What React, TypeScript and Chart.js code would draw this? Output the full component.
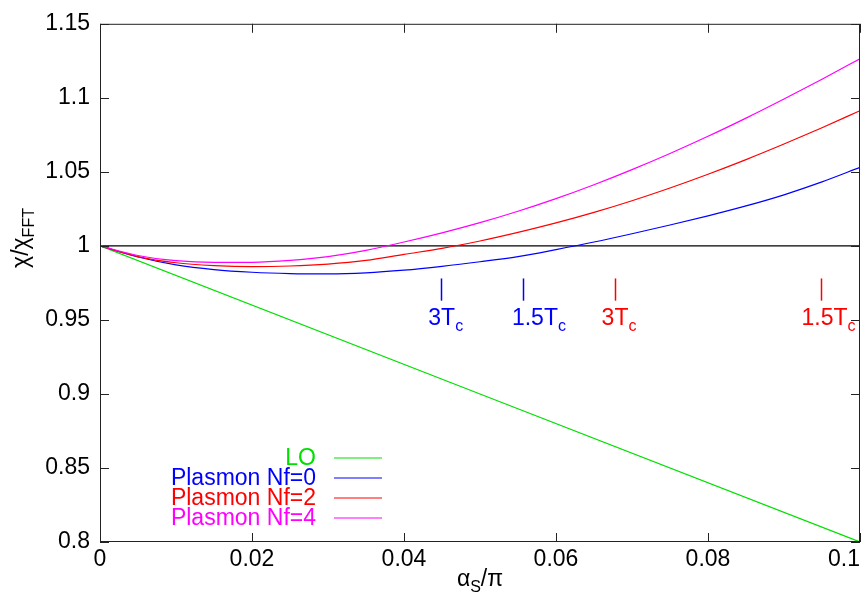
import React, { useEffect, useRef } from "react";
import { Chart, registerables } from "chart.js";

Chart.register(...registerables);

// Coupling on the horizontal axis (alpha_s / pi)
const alphaOverPi = [
  0, 0.005, 0.01, 0.015, 0.02, 0.025, 0.03, 0.035, 0.04, 0.045, 0.05,
  0.055, 0.06, 0.065, 0.07, 0.075, 0.08, 0.085, 0.09, 0.095, 0.1,
];

// chi / chi_FFT for the plasmon-resummed curves
const plasmonNf0 = [
  1.0, 0.9925, 0.9872, 0.984, 0.9822, 0.9813, 0.9811, 0.9818, 0.9836, 0.9862, 0.9893,
  0.9928, 0.9975, 1.0026, 1.0082, 1.0141, 1.0203, 1.027, 1.0345, 1.0432, 1.053,
];
const plasmonNf2 = [
  1.0, 0.9928, 0.9886, 0.9867, 0.986, 0.9864, 0.9877, 0.9902, 0.9943, 0.9983, 1.0033,
  1.0091, 1.0155, 1.0226, 1.0305, 1.0391, 1.0484, 1.0583, 1.0688, 1.0798, 1.0913,
];
const plasmonNf4 = [
  1.0, 0.9935, 0.99, 0.9888, 0.9889, 0.9902, 0.9928, 0.997, 1.0026, 1.0088, 1.0157,
  1.0234, 1.0319, 1.0413, 1.0515, 1.0624, 1.074, 1.0863, 1.0992, 1.1126, 1.1264,
];

// Leading-order straight line and the reference line at 1
const loX = [0, 0.1];
const loY = [1.0, 0.8];
const unityX = [0, 0.1];
const unityY = [1.0, 1.0];

const xTicks = [0, 0.02, 0.04, 0.06, 0.08, 0.1];
const yTicks = [0.8, 0.85, 0.9, 0.95, 1.0, 1.05, 1.1, 1.15];

const legendNames = ["LO", "Plasmon Nf=0", "Plasmon Nf=2", "Plasmon Nf=4"];

// Temperature markers: position of the bar, start of its label, label text
const markerX = [0.0449, 0.0556, 0.0678, 0.0949];
const markerLabelX = [0.0432, 0.0542, 0.066, 0.0923];
const markerLabel = ["3T", "1.5T", "3T", "1.5T"];
const markerSeries = [0, 0, 1, 1]; // 0 -> Nf=0 colour, 1 -> Nf=2 colour

const FONT = "'Liberation Sans', Arial, Helvetica, sans-serif";
const GREEN = "#00e000";
const BLUE = "#0000ff";
const RED = "#ff0000";
const MAGENTA = "#ff00ff";
const legendColors = [GREEN, BLUE, RED, MAGENTA];
const markerColors = [BLUE, RED];

const fmt = (v: number) => String(parseFloat(Number(v).toFixed(3)));

type Part = { text: string; sub?: boolean };

function richWidth(ctx: CanvasRenderingContext2D, parts: Part[], size: number, subSize: number) {
  let w = 0;
  for (const p of parts) {
    ctx.font = `${p.sub ? subSize : size}px ${FONT}`;
    w += ctx.measureText(p.text).width;
  }
  return w;
}

function drawRich(
  ctx: CanvasRenderingContext2D,
  parts: Part[],
  x: number,
  y: number,
  align: "left" | "center",
  size = 23,
  subSize = 16,
  subShift = 6
) {
  let cx = align === "center" ? x - richWidth(ctx, parts, size, subSize) / 2 : x;
  ctx.textAlign = "left";
  ctx.textBaseline = "alphabetic";
  for (const p of parts) {
    ctx.font = `${p.sub ? subSize : size}px ${FONT}`;
    ctx.fillText(p.text, cx, p.sub ? y + subShift : y);
    cx += ctx.measureText(p.text).width;
  }
}

const framePlugin = {
  id: "frame",
  afterDraw(chart: any) {
    const { ctx, chartArea, scales } = chart;
    const xs = scales.x;
    const ys = scales.y;
    const { left, right, top, bottom } = chartArea;
    ctx.save();

    // plot border
    ctx.strokeStyle = "#222";
    ctx.lineWidth = 1;
    ctx.strokeRect(left + 0.5, top + 0.5, right - left - 1, bottom - top - 1);

    // inward ticks on all four sides
    const tl = 9;
    ctx.beginPath();
    for (const v of yTicks) {
      const py = Math.round(ys.getPixelForValue(v)) + 0.5;
      ctx.moveTo(left, py);
      ctx.lineTo(left + tl, py);
      ctx.moveTo(right, py);
      ctx.lineTo(right - tl, py);
    }
    for (const v of xTicks) {
      const px = Math.round(xs.getPixelForValue(v)) + 0.5;
      ctx.moveTo(px, bottom);
      ctx.lineTo(px, bottom - tl);
      ctx.moveTo(px, top);
      ctx.lineTo(px, top + tl);
    }
    ctx.stroke();

    // x tick labels (kept inside the canvas at the right edge)
    ctx.fillStyle = "#000";
    ctx.font = `23px ${FONT}`;
    ctx.textAlign = "center";
    ctx.textBaseline = "alphabetic";
    for (const v of xTicks) {
      const label = fmt(v);
      const w = ctx.measureText(label).width;
      let px = xs.getPixelForValue(v);
      px = Math.min(px, chart.width - w / 2 - 1);
      ctx.fillText(label, px, 566);
    }

    // axis titles
    drawRich(ctx, [{ text: "\u03b1" }, { text: "S", sub: true }, { text: "/\u03c0" }], (left + right) / 2, 586, "center");
    ctx.save();
    ctx.translate(22, 238);
    ctx.rotate(-Math.PI / 2);
    drawRich(ctx, [{ text: "\u03c7/\u03c7" }, { text: "FFT", sub: true }], 0, 6, "center");
    ctx.restore();

    // temperature markers
    for (let i = 0; i < markerX.length; i++) {
      const color = markerColors[markerSeries[i]];
      const px = Math.round(xs.getPixelForValue(markerX[i])) + 0.5;
      const y0 = ys.getPixelForValue(0.978);
      const y1 = ys.getPixelForValue(0.963);
      ctx.strokeStyle = color;
      ctx.lineWidth = 1.5;
      ctx.beginPath();
      ctx.moveTo(px, y0);
      ctx.lineTo(px, y1);
      ctx.stroke();
      ctx.fillStyle = color;
      drawRich(
        ctx,
        [{ text: markerLabel[i] }, { text: "c", sub: true }],
        xs.getPixelForValue(markerLabelX[i]),
        ys.getPixelForValue(0.9465),
        "left"
      );
    }

    // key
    const keyRight = 316;
    for (let i = 0; i < legendNames.length; i++) {
      const base = 465 + i * 20;
      ctx.fillStyle = legendColors[i];
      ctx.font = `23px ${FONT}`;
      ctx.textAlign = "right";
      ctx.textBaseline = "alphabetic";
      ctx.fillText(legendNames[i], keyRight, base);
      ctx.strokeStyle = legendColors[i];
      ctx.lineWidth = 1.2;
      ctx.beginPath();
      ctx.moveTo(334, base - 7);
      ctx.lineTo(382, base - 7);
      ctx.stroke();
    }

    ctx.restore();
  },
};

const pts = (xs: number[], ys: number[]) => xs.map((x, i) => ({ x, y: ys[i] }));

export default function App() {
  const canvasRef = useRef<HTMLCanvasElement | null>(null);

  useEffect(() => {
    const canvas = canvasRef.current;
    if (!canvas) return;
    const chart = new Chart(canvas, {
      type: "line",
      data: {
        datasets: [
          { label: legendNames[3], data: pts(alphaOverPi, plasmonNf4), borderColor: MAGENTA, order: 0 },
          { label: legendNames[2], data: pts(alphaOverPi, plasmonNf2), borderColor: RED, order: 1 },
          { label: legendNames[1], data: pts(alphaOverPi, plasmonNf0), borderColor: BLUE, order: 2 },
          { label: legendNames[0], data: pts(loX, loY), borderColor: GREEN, order: 3 },
          { label: "1", data: pts(unityX, unityY), borderColor: "#000", order: 4 },
        ],
      },
      options: {
        animation: false,
        responsive: false,
        layout: { padding: { top: 20, right: 1, left: 0, bottom: 0 }, autoPadding: false },
        plugins: { legend: { display: false }, tooltip: { enabled: false } },
        elements: {
          point: { radius: 0 },
          line: { borderWidth: 1.2, cubicInterpolationMode: "monotone", fill: false },
        },
        scales: {
          x: {
            type: "linear",
            min: 0,
            max: 0.1,
            afterBuildTicks: (s: any) => {
              s.ticks = xTicks.map((v) => ({ value: v }));
            },
            afterFit: (s: any) => {
              s.height = 52;
            },
            grid: { display: false, drawTicks: false },
            border: { display: false },
            ticks: { display: false },
          },
          y: {
            type: "linear",
            min: 0.8,
            max: 1.15,
            afterBuildTicks: (s: any) => {
              s.ticks = yTicks.map((v) => ({ value: v }));
            },
            afterFit: (s: any) => {
              s.width = 100;
            },
            grid: { display: false, drawTicks: false },
            border: { display: false },
            ticks: {
              color: "#000",
              padding: 10,
              font: { family: FONT, size: 23 },
              callback: (v: any) => fmt(v),
            },
          },
        },
      } as any,
      plugins: [framePlugin],
    });
    return () => chart.destroy();
  }, []);

  return (
    <div style={{ position: "fixed", left: 0, top: 0, width: 861, height: 594, background: "#fff" }}>
      <canvas ref={canvasRef} width={861} height={594} style={{ display: "block" }} />
    </div>
  );
}
